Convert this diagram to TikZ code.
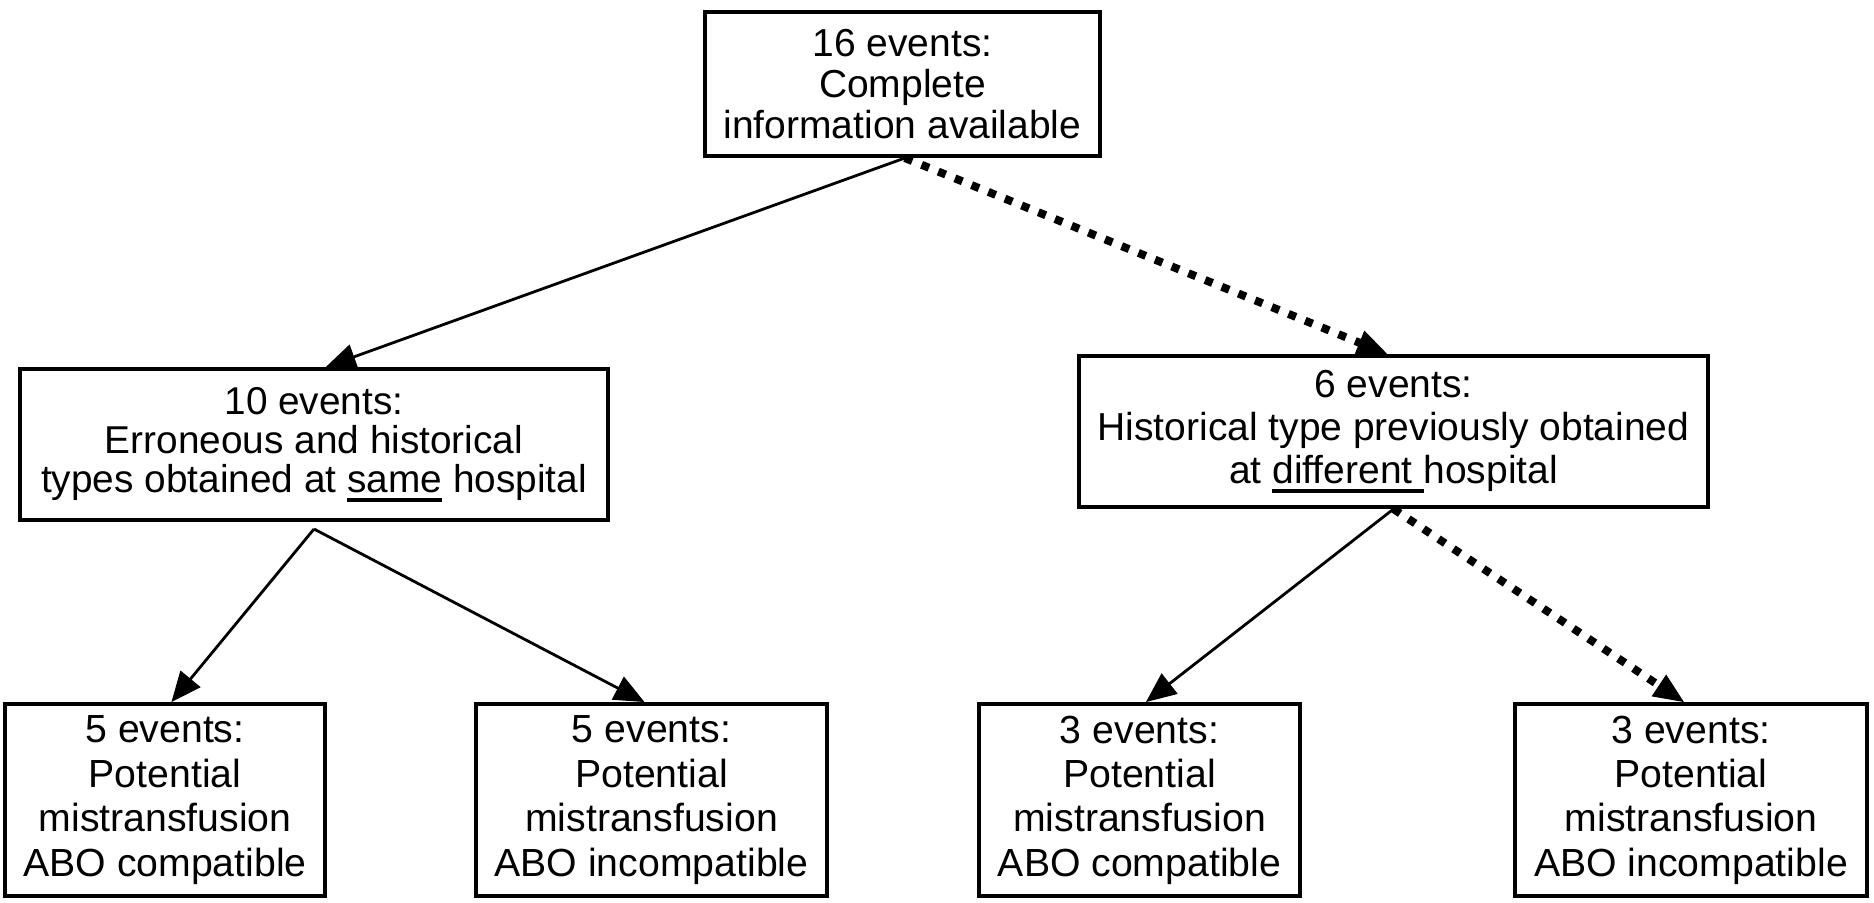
\documentclass[tikz,border=0pt]{standalone}
\usepackage{fontspec}
\setmainfont{Liberation Sans}
\usetikzlibrary{arrows.meta,calc}
\newcommand\myul[1]{\setbox0=\hbox{#1}\rlap{\rule[-4.5pt]{\wd0}{2pt}}\box0\relax}
\begin{document}
\begin{tikzpicture}[x=0.5pt,y=-0.5pt,
  box/.style={draw, line width=2pt, align=center, inner sep=0pt},
  topfont/.style={font=\fontsize{19.5}{20.3}\selectfont},
  lmfont/.style={font=\fontsize{19.4}{19.6}\selectfont},
  rmfont/.style={font=\fontsize{19.5}{21.5}\selectfont},
  bbfont/.style={font=\fontsize{19.6}{22.2}\selectfont},
  link/.style={line width=1.4pt, -{Triangle[length=15pt,width=13pt,line width=0.5pt]}},
  dotlink/.style={line width=4pt, dash pattern=on 4pt off 5pt, -{Triangle[length=15pt,width=13pt,line width=0.5pt]}}
]
\useasboundingbox (0,0) rectangle (1874,902);
\node[box, topfont, minimum width=197.5pt, minimum height=72pt] (top) at (902.5,84)
  {16 events:\\Complete\\information available};
\node[box, lmfont, minimum width=294pt, minimum height=75.5pt] (lm) at (314,444.5)
  {10 events:\\Erroneous and historical\\types obtained at \myul{same} hospital};
\node[box, rmfont, minimum width=314.5pt, minimum height=75.5pt] (rm) at (1393.5,431.5)
  {6 events:\\Historical type previously obtained\\at \myul{different\ }hospital};
\node[box, bbfont, minimum width=160pt, minimum height=96pt] (b1) at (165,800)
  {5 events:\\Potential\\mistransfusion\\ABO compatible};
\node[box, bbfont, minimum width=175.5pt, minimum height=96pt] (b2) at (651.5,800)
  {5 events:\\Potential\\mistransfusion\\ABO incompatible};
\node[box, bbfont, minimum width=160.5pt, minimum height=96pt] (b3) at (1139.5,800)
  {3 events:\\Potential\\mistransfusion\\ABO compatible};
\node[box, bbfont, minimum width=176pt, minimum height=96pt] (b4) at (1691,800)
  {3 events:\\Potential\\mistransfusion\\ABO incompatible};
\coordinate (ts) at ($(top.south west)!0.506!(top.south east)$);
\coordinate (ls) at ($(lm.south)+(0,7)$);
\coordinate (rs) at ($(rm.south west)!0.5!(rm.south east)$);
\draw[link] (ts) -- ($(lm.north west)!0.52!(lm.north east)$);
\draw[dotlink] (ts) -- ($(rm.north west)!0.49!(rm.north east)$);
\draw[link] (ls) -- ($(b1.north west)!0.52!(b1.north east)$);
\draw[link] (ls) -- ($(b2.north west)!0.48!(b2.north east)$);
\draw[link] (rs) -- ($(b3.north west)!0.52!(b3.north east)$);
\draw[dotlink] (rs) -- ($(b4.north west)!0.48!(b4.north east)$);
\end{tikzpicture}
\end{document}
